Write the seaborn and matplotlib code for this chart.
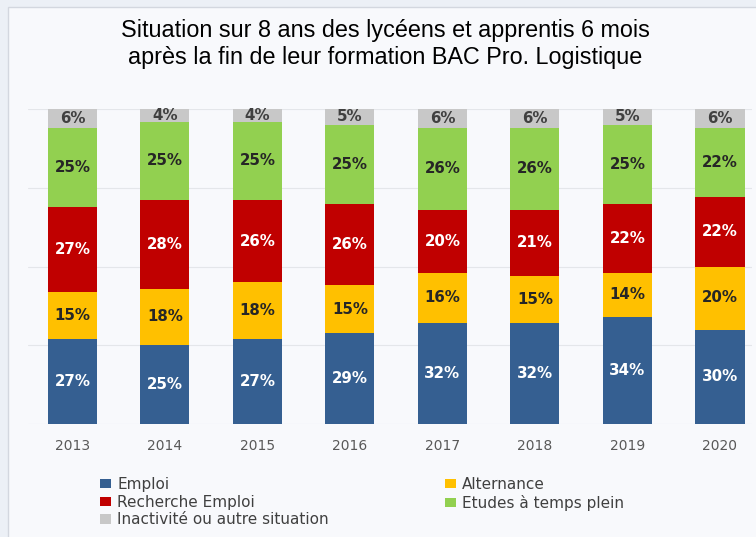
import matplotlib.pyplot as plt
import seaborn as sns
import numpy as np
from matplotlib.patches import Patch, Rectangle

# Values (percent of each cohort, 6 months after the BAC Pro)
years = ['2013', '2014', '2015', '2016', '2017', '2018', '2019', '2020']
emploi = [27, 25, 27, 29, 32, 32, 34, 30]
alternance = [15, 18, 18, 15, 16, 15, 14, 20]
recherche = [27, 28, 26, 26, 20, 21, 22, 22]
etudes = [25, 25, 25, 25, 26, 26, 25, 22]
inactivite = [6, 4, 4, 5, 6, 6, 5, 6]

series_names = ['Emploi', 'Alternance', 'Recherche Emploi',
                'Etudes à temps plein', 'Inactivité ou autre situation']
series_vals = [emploi, alternance, recherche, etudes, inactivite]
bar_colors = ['#355f91', '#ffc000', '#c00000', '#92d050', '#c8c8c8']
text_colors = ['white', '#262626', 'white', '#262626', '#404040']

sns.set_theme(style='white')
plt.rcParams['font.family'] = ['DejaVu Sans']

fig = plt.figure(figsize=(7.56, 5.37), dpi=100, facecolor='#ecf0f6')

# Light panel behind the chart, with its thin border on the left/top
fig.patches.append(Rectangle((8 / 756, -0.02), 1.0, (537 - 7) / 537 + 0.02,
                             transform=fig.transFigure, facecolor='#f8f9fc',
                             edgecolor='#d3d7df', lw=1, zorder=-5))

ax = fig.add_axes([28 / 756, 1 - 424 / 537, (752 - 28) / 756, 315 / 537])
ax.set_facecolor('none')

# Stacked bars, one seaborn call per series
bottom = np.zeros(len(years))
for name, vals, col, tcol in zip(series_names, series_vals, bar_colors, text_colors):
    sns.barplot(x=years, y=vals, color=col, bottom=bottom, width=0.53,
                saturation=1, linewidth=0, errorbar=None, ax=ax)
    for i, v in enumerate(vals):
        ax.text(i, bottom[i] + v / 2, str(v) + '%', ha='center', va='center',
                color=tcol, fontsize=10.8, fontweight='bold')
    bottom += np.array(vals)

ax.set_xlim(-0.48, 7.346)
ax.set_ylim(0, 100)
ax.set_yticks([0, 25, 50, 75, 100])
ax.set_yticklabels([])
ax.yaxis.grid(True, color='#e4e6ea', lw=0.8)
ax.set_axisbelow(True)
ax.tick_params(axis='both', length=0)
ax.tick_params(axis='x', pad=11, labelsize=10, labelcolor='#595959')
for s in ax.spines.values():
    s.set_visible(False)
ax.set_xlabel('')
ax.set_ylabel('')

fig.text(385 / 756, 1 - 44 / 537,
         'Situation sur 8 ans des lycéens et apprentis 6 mois\n'
         'après la fin de leur formation BAC Pro. Logistique',
         ha='center', va='center', fontsize=16.8, family='Liberation Sans',
         linespacing=1.25, color='black')

# Legend: two columns, Emploi/Recherche/Inactivité on the left
order = [0, 2, 4, 1, 3]
handles = [Patch(facecolor=bar_colors[k], edgecolor='none') for k in order]
labels = [series_names[k] for k in order]
fig.legend(handles, labels, ncol=2, loc='upper left',
           bbox_to_anchor=(100 / 756, 1 - 477 / 537), frameon=False,
           fontsize=11, handlelength=0.72, handleheight=0.6,
           handletextpad=0.4, columnspacing=7.6, labelspacing=0.18,
           borderpad=0, borderaxespad=0, labelcolor='#404040')

fig.savefig('out.png', dpi=100, facecolor=fig.get_facecolor())
